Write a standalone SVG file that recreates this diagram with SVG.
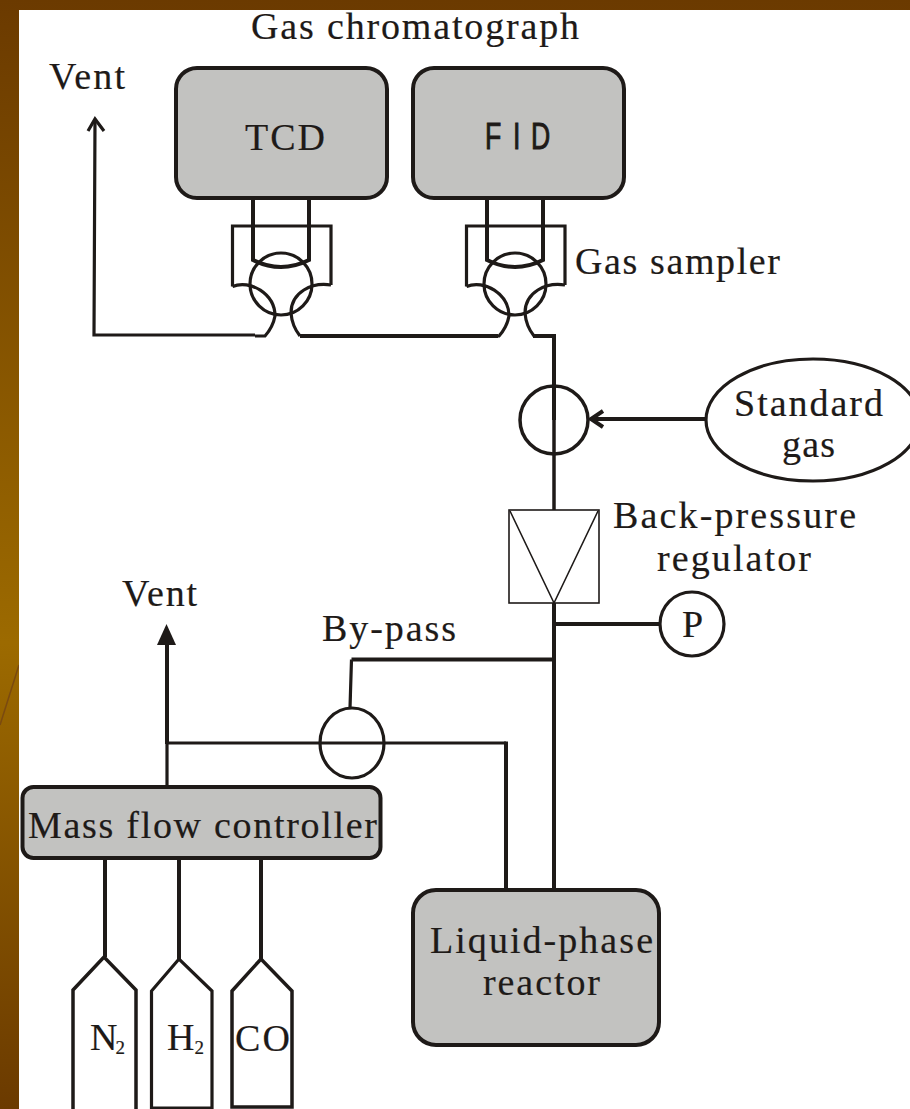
<svg xmlns="http://www.w3.org/2000/svg" width="910" height="1109" viewBox="0 0 910 1109">
<defs>
<linearGradient id="bg" x1="0" y1="0" x2="0" y2="1"><stop offset="0" stop-color="#6b3a00"/><stop offset="0.58" stop-color="#9c6a00"/><stop offset="1" stop-color="#6b3a00"/></linearGradient>
<g id="sampler">
<circle cx="281" cy="284" r="31" class="m"/>
<path class="m" d="M232.500 286.500C250 279 275 294 275 316Q273 327 265 336H255"/>
<path class="m" d="M232.500 286.500V226H331V285"/>
<path class="t" d="M253 198V260Q281 274 309 260V198"/>
<path class="m" d="M331 285C312 282 291 292 291 313Q292 326 300 336"/>
</g>
</defs>
<style>
.m,.t,.k,.n{fill:none;stroke:#1e1a18;stroke-linejoin:miter}
.m{stroke-width:3.2}
.t{stroke-width:4}
.k{stroke-width:3.5}
.n{stroke-width:1.6}
.box{fill:#c2c2c0;stroke:#1e1a18;stroke-width:4}
text{font-family:"Liberation Serif","Times New Roman",serif;font-size:38px;fill:#1e1a18;stroke:#1e1a18;stroke-width:0.2}
.sub{font-size:19px}
.sans{font-family:"Liberation Sans",Arial,sans-serif;font-size:37px;stroke-width:1}
</style>
<rect width="910" height="1109" fill="url(#bg)"/>
<path d="M19 665L0 725" stroke="#7a4a10" stroke-width="1.5" fill="none"/>
<rect x="19" y="10" width="891" height="1099" fill="#fff"/>
<g id="connectors">
<path class="m" d="M255 335H94L95 120"/>
<path class="m" d="M88 131L95 119L104 131"/>
<path class="t" d="M300 336H498"/>
<path class="t" d="M533 336H554V420"/>
<path class="k" d="M554 420V510"/>
<path class="t" d="M706 419H594"/>
<path class="t" d="M603 411L591 419L603 427"/>
<path class="t" d="M554 603V888"/>
<path class="t" d="M554 624H660"/>
<path class="t" d="M554 659.500H351.500"/>
<path class="m" d="M351.500 659.500L350 708"/>
<path class="t" d="M167 744V630"/>
<path d="M166.500 624L157 645H176Z" fill="#1e1a18"/>
<path class="m" d="M167 743V786"/>
<path class="m" d="M167 743H506"/>
<path class="t" d="M506 741.500V888"/>
<path class="t" d="M105 858V957"/>
<path class="t" d="M179 858V959"/>
<path class="t" d="M261 858V959"/>
</g>
<g id="gas-chromatograph"><text x="251" y="39" textLength="328">Gas chromatograph</text></g>
<g id="tcd"><rect class="box" x="176" y="68" width="211" height="130" rx="21"/><text x="245" y="150" textLength="80">TCD</text></g>
<g id="fid"><rect class="box" x="413" y="68" width="211" height="130" rx="21"/><text class="sans" transform="translate(485 149) scale(.72 1)" x="0 39 64" y="0">FID</text></g>
<g id="vent-top"><text x="49" y="89" textLength="76">Vent</text></g>
<g id="sampler-tcd"><use href="#sampler"/></g>
<g id="sampler-fid"><use href="#sampler" x="234"/></g>
<g id="gas-sampler-label"><text x="575" y="274" textLength="205">Gas sampler</text></g>
<g id="valve-standard"><ellipse class="m" cx="554" cy="420" rx="34" ry="34" style="stroke-width:3.500"/></g>
<g id="standard-gas"><ellipse class="m" cx="813" cy="420" rx="107" ry="61"/><text x="734" y="416" textLength="149">Standard</text><text x="782" y="457" textLength="53">gas</text></g>
<g id="back-pressure-regulator"><rect class="n" x="509" y="510" width="90" height="93"/><path class="n" d="M510 511L554 603L598 511"/><text x="613" y="528" textLength="243">Back-pressure</text><text x="657" y="571" textLength="154">regulator</text></g>
<g id="pressure-gauge"><circle class="m" cx="692" cy="624" r="32"/><text x="682" y="637">P</text></g>
<g id="vent-bottom"><text x="122" y="606" textLength="75">Vent</text></g>
<g id="by-pass"><text x="322" y="641" textLength="134">By-pass</text><ellipse class="m" cx="352" cy="743" rx="32" ry="35"/></g>
<g id="mass-flow-controller"><rect class="box" x="22.500" y="787" width="358" height="71" rx="11"/><text x="28" y="838" textLength="349">Mass flow controller</text></g>
<g id="liquid-phase-reactor"><rect class="box" x="413" y="890" width="246" height="155" rx="23"/><text x="430" y="953" textLength="223">Liquid-phase</text><text x="483" y="995" textLength="117">reactor</text></g>
<g id="cylinder-n2"><path class="k" d="M73 1109V990L104 957L136 990V1109"/><text x="90" y="1050">N<tspan class="sub" dx="-2" dy="4">2</tspan></text></g>
<g id="cylinder-h2"><path class="m" d="M151.500 1108V991L179 959L212 991V1108Z"/><text x="167" y="1050">H<tspan class="sub" dy="4">2</tspan></text></g>
<g id="cylinder-co"><path class="k" d="M232 1107V991L261 959L292 991V1107Z"/><text x="235" y="1051" textLength="55">CO</text></g>
</svg>
